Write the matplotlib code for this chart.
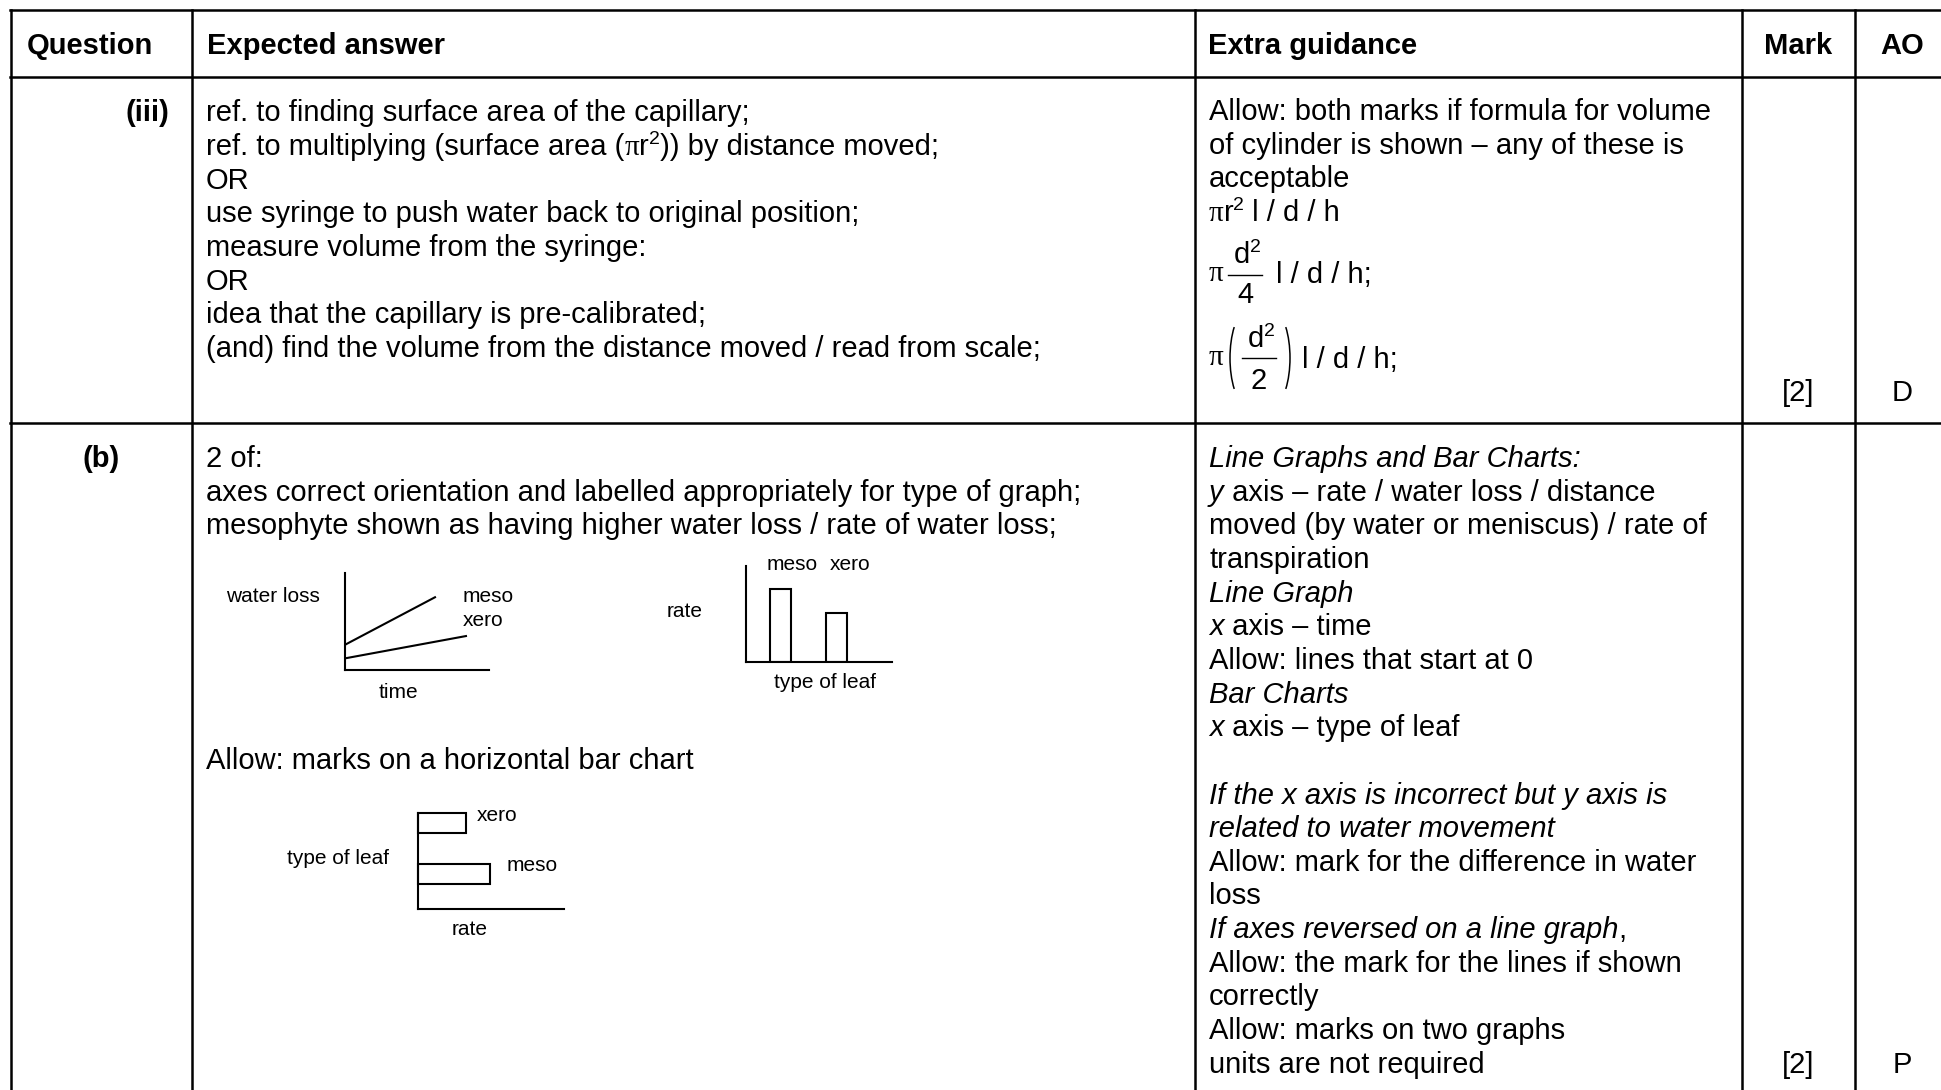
import matplotlib
matplotlib.use('Agg')
import matplotlib.pyplot as plt
from matplotlib.patches import Arc

W, H = 1941, 1090
FS = 21        # body text size
FS_SUP = 14    # superscripts
FS_SMALL = 15  # labels in the little sketch graphs
SANS = 'Liberation Sans'
SERIF = 'Liberation Serif'

# ---- table content ----
headers = ['Question', 'Expected answer', 'Extra guidance', 'Mark', 'AO']
row_labels = ['(iii)', '(b)']
marks = ['[2]', '[2]']
aos = ['D', 'P']

# segments are (text, kind) where kind: 'n' normal, 'i' italic, 'p' serif pi, 's' superscript
answer_iii = [
    [('ref. to finding surface area of the capillary;', 'n')],
    [('ref. to multiplying (surface area (', 'n'), ('\u03c0', 'p'), ('r', 'n'), ('2', 's'),
     (')) by distance moved;', 'n')],
    [('OR', 'n')],
    [('use syringe to push water back to original position;', 'n')],
    [('measure volume from the syringe:', 'n')],
    [('OR', 'n')],
    [('idea that the capillary is pre-calibrated;', 'n')],
    [('(and) find the volume from the distance moved / read from scale;', 'n')],
]
guidance_iii = [
    [('Allow: both marks if formula for volume', 'n')],
    [('of cylinder is shown \u2013 any of these is', 'n')],
    [('acceptable', 'n')],
    [('\u03c0', 'p'), ('r', 'n'), ('2', 's'), (' l / d / h', 'n')],
]
answer_b = [
    '2 of:',
    'axes correct orientation and labelled appropriately for type of graph;',
    'mesophyte shown as having higher water loss / rate of water loss;',
]
answer_b_extra = 'Allow: marks on a horizontal bar chart'
guidance_b = [
    [('Line Graphs and Bar Charts:', 'i')],
    [('y', 'i'), (' axis \u2013 rate / water loss / distance', 'n')],
    [('moved (by water or meniscus) / rate of', 'n')],
    [('transpiration', 'n')],
    [('Line Graph', 'i')],
    [('x', 'i'), (' axis \u2013 time', 'n')],
    [('Allow: lines that start at 0', 'n')],
    [('Bar Charts', 'i')],
    [('x', 'i'), (' axis \u2013 type of leaf', 'n')],
    [],
    [('If the x axis is incorrect but y axis is', 'i')],
    [('related to water movement', 'i')],
    [('Allow: mark for the difference in water', 'n')],
    [('loss', 'n')],
    [('If axes reversed on a line graph', 'i'), (',', 'n')],
    [('Allow: the mark for the lines if shown', 'n')],
    [('correctly', 'n')],
    [('Allow: marks on two graphs', 'n')],
    [('units are not required', 'n')],
]

# ---- sketch graph data ----
time_meso = [0.0, 0.625]
loss_meso = [0.26, 0.75]
time_xero = [0.0, 0.84]
loss_xero = [0.12, 0.35]
leaf_types = ['meso', 'xero']
rate_vbar = [0.76, 0.51]
rate_hbar = [0.49, 0.33]

fig = plt.figure(figsize=(W/100, H/100), dpi=100)
ax = fig.add_axes([0, 0, 1, 1])
ax.set_xlim(0, W)
ax.set_ylim(H, 0)
ax.axis('off')
renderer = fig.canvas.get_renderer()

def draw_segments(x, y, segs):
    for s, kind in segs:
        kw = dict(fontsize=FS, family=SANS, va='baseline')
        yy = y
        if kind == 'i':
            kw['style'] = 'italic'
        elif kind == 'p':
            kw['family'] = SERIF
        elif kind == 's':
            kw['fontsize'] = FS_SUP
            yy = y - 11
        t = ax.text(x, yy, s, **kw)
        x = t.get_window_extent(renderer).x1

def txt(x, y, s, size=FS, **kw):
    kw.setdefault('family', SANS)
    ax.text(x, y, s, fontsize=size, va='baseline', **kw)

def d_squared(xc, y):
    # "d" with a raised small 2, centred on xc
    txt(xc - 3, y, 'd', ha='center')
    txt(xc + 5, y - 11, '2', size=FS_SUP)

# ---- grid lines ----
LW = 1.8
for yy in [10, 76.5, 423]:
    ax.plot([10, W], [yy, yy], color='black', lw=LW, solid_capstyle='projecting')
for xx in [10.5, 192, 1194.5, 1742, 1855]:
    ax.plot([xx, xx], [10, H], color='black', lw=LW, solid_capstyle='projecting')

# ---- header ----
hx = [27, 207, 1208, 1798, 1902]
for i, h in enumerate(headers):
    ha = 'center' if i >= 3 else 'left'
    txt(hx[i], 54, h, weight='bold', ha=ha)

# ---- row labels / marks ----
txt(169, 121, row_labels[0], weight='bold', ha='right')
txt(82, 467, row_labels[1], weight='bold')
for i, yb in enumerate([401, 1073]):
    txt(1798, yb, marks[i], ha='center')
    txt(1902, yb, aos[i], ha='center')

# ---- row (iii) ----
LS = 33.65
for k, segs in enumerate(answer_iii):
    draw_segments(206, 121.4 + k*LS, segs)
for k, segs in enumerate(guidance_iii):
    draw_segments(1209, 120 + k*LS, segs)

# pi d^2/4
txt(1209, 281, '\u03c0', family=SERIF)
d_squared(1245, 263)
ax.plot([1228, 1262], [275, 275], color='black', lw=1.0)
txt(1245, 303, '4', ha='center')
txt(1276, 283, 'l / d / h;')

# pi (d^2/2)
txt(1209, 365, '\u03c0', family=SERIF)
ax.add_patch(Arc((1248, 358), 36, 96, theta1=114, theta2=246, color='black', lw=1.1))
ax.add_patch(Arc((1272, 358), 36, 96, theta1=-66, theta2=66, color='black', lw=1.1))
d_squared(1259, 347)
ax.plot([1242, 1276], [358, 358], color='black', lw=1.0)
txt(1259, 389, '2', ha='center')
txt(1302, 368, 'l / d / h;')

# ---- row (b) ----
for k, s in enumerate(answer_b):
    txt(206, 467 + k*LS, s)
txt(206, 769, answer_b_extra)
for k, segs in enumerate(guidance_b):
    draw_segments(1209, 467 + k*LS, segs)

def sketch_axes(left, bottom, w, h):
    a = fig.add_axes([left/W, 1 - bottom/H, w/W, h/H])
    a.set_xticks([])
    a.set_yticks([])
    a.spines[['top', 'right']].set_visible(False)
    for sp in ['left', 'bottom']:
        a.spines[sp].set_linewidth(1.5)
    a.patch.set_alpha(0)
    return a

# line graph
a1 = sketch_axes(345, 670, 144, 97)
a1.plot(time_meso, loss_meso, color='black', lw=1.5)
a1.plot(time_xero, loss_xero, color='black', lw=1.5)
a1.set_xlim(0, 1)
a1.set_ylim(0, 1)
txt(226, 602, 'water loss', size=FS_SMALL)
txt(463, 602, 'meso', size=FS_SMALL)
txt(463, 626, 'xero', size=FS_SMALL)
txt(398, 698, 'time', size=FS_SMALL, ha='center')

# vertical bar chart
a2 = sketch_axes(746, 662, 146, 96)
a2.bar(range(len(leaf_types)), rate_vbar, width=0.375, facecolor='none',
       edgecolor='black', lw=1.5)
a2.set_xlim(-0.61, 2.0)
a2.set_ylim(0, 1)
txt(767, 570, leaf_types[0], size=FS_SMALL)
txt(830, 570, leaf_types[1], size=FS_SMALL)
txt(667, 617, 'rate', size=FS_SMALL)
txt(825, 688, 'type of leaf', size=FS_SMALL, ha='center')

# horizontal bar chart
a3 = sketch_axes(418, 909, 146, 96)
a3.barh(range(len(leaf_types)), rate_hbar, height=0.41, facecolor='none',
        edgecolor='black', lw=1.5, clip_on=False)
a3.set_xlim(0, 1)
a3.set_ylim(-0.686, 1.196)
txt(477, 821, leaf_types[1], size=FS_SMALL)
txt(507, 871, leaf_types[0], size=FS_SMALL)
txt(287, 864, 'type of leaf', size=FS_SMALL)
txt(470, 935, 'rate', size=FS_SMALL, ha='center')

fig.savefig('out.png', dpi=100)
